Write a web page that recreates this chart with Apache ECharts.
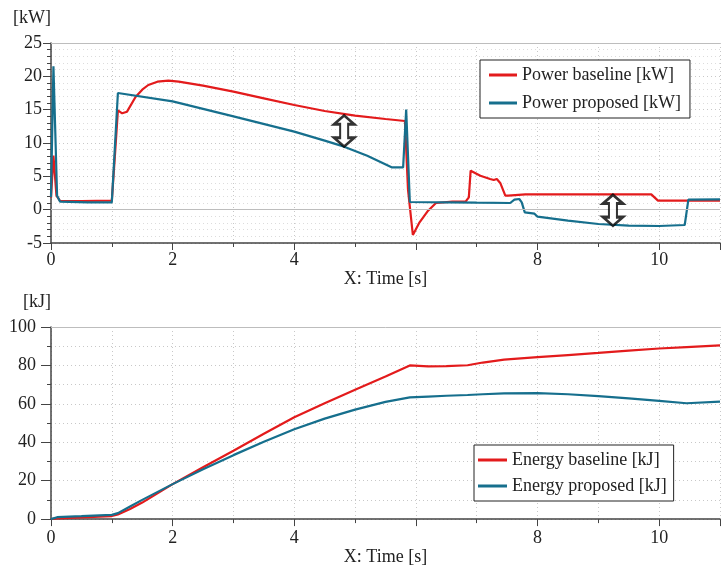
<!doctype html>
<html>
<head>
<meta charset="UTF-8">
<title>Power and energy</title>
<script src="https://cdn.jsdelivr.net/npm/echarts@6/dist/echarts.min.js"></script>
<style>
  html, body { margin: 0; padding: 0; background: #fff; }
  #main { width: 723px; height: 567px; }
</style>
</head>
<body>
<div id="main"></div>
<script>
// power baseline [kW]
var tPowerBase = [0, 0.04, 0.06, 0.09, 0.15, 0.5, 1.0, 1.05, 1.1, 1.17, 1.25, 1.39, 1.5, 1.6, 1.75, 1.93, 2.1,
  2.5, 3.0, 3.5, 4.0, 4.5, 5.0, 5.5, 5.82, 5.87, 5.95, 6.06, 6.2, 6.33, 6.6, 6.82, 6.87, 6.9, 6.93,
  7.06, 7.22, 7.28, 7.33, 7.39, 7.47, 7.52, 7.8, 9.87, 9.98, 11];
var powerBase = [1.8, 8.1, 7.9, 2.1, 1.3, 1.3, 1.35, 8, 14.9, 14.45, 14.7, 16.9, 18.0, 18.7, 19.2, 19.35, 19.2,
  18.6, 17.7, 16.7, 15.7, 14.8, 14.1, 13.6, 13.3, 3, -3.8, -1.9, -0.15, 1.0, 1.2, 1.25, 1.85, 5.85, 5.8,
  5.1, 4.6, 4.45, 4.6, 3.95, 2.1, 2.1, 2.3, 2.3, 1.35, 1.35];

// power proposed [kW]
var tPowerProp = [0, 0.04, 0.06, 0.1, 0.15, 0.6, 1.0, 1.1, 2.0, 3.0, 4.0, 4.5, 4.82, 5.2, 5.6, 5.79, 5.84, 5.9,
  6.5, 7.0, 7.55, 7.62, 7.7, 7.74, 7.79, 7.95, 8.0, 8.5, 9.0, 9.5, 10.0, 10.42, 10.48, 11];
var powerProp = [1.85, 21.5, 21.3, 2.1, 1.2, 1.1, 1.1, 17.5, 16.25, 14.0, 11.7, 10.35, 9.45, 8.1, 6.35, 6.35, 15.0, 1.15,
  1.1, 1.05, 1.0, 1.5, 1.6, 1.1, -0.4, -0.6, -1.05, -1.65, -2.15, -2.4, -2.45, -2.3, 1.5, 1.55];

// energy [kJ]
var tEnergy = [0, 0.1, 0.2, 0.5, 1.0, 1.1, 1.3, 1.5, 2.0, 2.5, 3.0, 3.5, 4.0, 4.5, 5.0, 5.5, 5.9,
  6.2, 6.5, 6.85, 7.1, 7.45, 8.0, 8.5, 9.0, 9.5, 10.0, 10.45, 11];
var energyBase = [0, 0.4, 0.5, 0.9, 1.6, 2.4, 5.3, 8.6, 18.2, 27, 35.6, 44.4, 53, 60.3, 67.3, 74.2, 80.0,
  79.5, 79.6, 80.1, 81.5, 83, 84.3, 85.4, 86.5, 87.7, 88.8, 89.5, 90.4];
var energyProp = [0, 1.0, 1.2, 1.5, 2.2, 3.1, 6.6, 10.0, 18.2, 26, 33.3, 40.3, 46.8, 52.3, 57, 61, 63.4,
  63.8, 64.2, 64.6, 65.0, 65.4, 65.6, 65.0, 64.0, 62.8, 61.5, 60.3, 61.2];

// double arrow annotations [t, value]
var arrowPower = [[4.82, 11.8], [9.24, -0.1]];

var xTicks = [0, 2, 4, 8, 10];

function zip(t, v) { return t.map(function (x, i) { return [x, v[i]]; }); }

var RED = '#e31b1c', TEAL = '#166f8d';
var FONT = 'Liberation Serif';
var txt = { fontFamily: FONT, fontSize: 18, color: '#222' };
var dotted = { type: [1, 3], color: '#c8c8c8', width: 1 };
var arrowPath = 'path://M10,0 L20,9 L14,9 L14,23 L20,23 L10,32 L0,23 L6,23 L6,9 L0,9 Z';

function xAxisOf(grid, margin, gap) {
  return {
    type: 'value', gridIndex: grid, min: 0, max: 11, interval: 2,
    name: 'X: Time [s]', nameLocation: 'middle', nameGap: gap, nameTextStyle: txt,
    axisLine: { onZero: false, lineStyle: { color: '#444', width: 1.5 } },
    axisTick: { length: 7, lineStyle: { color: '#444' } },
    minorTick: { show: true, splitNumber: 2, length: 4, lineStyle: { color: '#444' } },
    axisLabel: Object.assign({ margin: margin, formatter: function (v) { return xTicks.indexOf(v) >= 0 ? v : ''; } }, txt),
    splitLine: { show: true, lineStyle: dotted },
    minorSplitLine: { show: true, lineStyle: dotted }
  };
}

var chart = echarts.init(document.getElementById('main'));
chart.setOption({
  animation: false,
  backgroundColor: '#fff',
  grid: [
    { left: 51, top: 43, width: 679, height: 200 },
    { left: 51, top: 327, width: 679, height: 200 }
  ],
  xAxis: [xAxisOf(0, 8, 16), xAxisOf(1, 10, 17)],
  yAxis: [
    {
      type: 'value', gridIndex: 0, min: -5, max: 25, interval: 5,
      name: '[kW]', nameLocation: 'end', nameGap: 16,
      nameTextStyle: Object.assign({ align: 'right' }, txt),
      axisLine: { show: true, lineStyle: { color: '#444', width: 1.5 } },
      axisTick: { show: true, length: 8, lineStyle: { color: '#444' } },
      minorTick: { show: true, splitNumber: 5, length: 4, lineStyle: { color: '#444' } },
      axisLabel: Object.assign({ margin: 9 }, txt),
      splitLine: { show: true, lineStyle: dotted },
      minorSplitLine: { show: true, lineStyle: { type: [1, 3], color: '#dcdcdc' } }
    },
    {
      type: 'value', gridIndex: 1, min: 0, max: 100, interval: 20,
      name: '[kJ]', nameLocation: 'end', nameGap: 16,
      nameTextStyle: Object.assign({ align: 'right' }, txt),
      axisLine: { show: true, lineStyle: { color: '#444', width: 1.5 } },
      axisTick: { show: true, length: 10, lineStyle: { color: '#444' } },
      minorTick: { show: true, splitNumber: 2, length: 4, lineStyle: { color: '#444' } },
      axisLabel: Object.assign({ margin: 15 }, txt),
      splitLine: { show: true, lineStyle: dotted },
      minorSplitLine: { show: true, lineStyle: dotted }
    }
  ],
  legend: [
    {
      data: ['Power baseline [kW]', 'Power proposed [kW]'],
      orient: 'vertical', left: 480, top: 60,
      backgroundColor: '#fff', borderColor: '#222', borderWidth: 1,
      padding: [5, 9, 5, 9], itemGap: 8, itemWidth: 28, itemHeight: 3, icon: 'rect',
      textStyle: Object.assign({ lineHeight: 20 }, txt)
    },
    {
      data: ['Energy baseline [kJ]', 'Energy proposed [kJ]'],
      orient: 'vertical', left: 474, top: 445,
      backgroundColor: '#fff', borderColor: '#222', borderWidth: 1,
      padding: [5, 7, 5, 4], itemGap: 6, itemWidth: 29, itemHeight: 3, icon: 'rect',
      textStyle: Object.assign({ lineHeight: 20 }, txt)
    }
  ],
  series: [
    {
      name: 'Power baseline [kW]', type: 'line', xAxisIndex: 0, yAxisIndex: 0,
      data: zip(tPowerBase, powerBase), showSymbol: false, color: RED,
      lineStyle: { width: 2.2, color: RED },
      markLine: {
        silent: true, symbol: 'none', label: { show: false },
        lineStyle: { type: 'solid', color: '#bdbdbd', width: 1 },
        data: [{ yAxis: 0 }, { yAxis: 25 }]
      }
    },
    {
      name: 'Power proposed [kW]', type: 'line', xAxisIndex: 0, yAxisIndex: 0,
      data: zip(tPowerProp, powerProp), showSymbol: false, color: TEAL,
      lineStyle: { width: 2.2, color: TEAL }
    },
    {
      name: 'arrows', type: 'scatter', xAxisIndex: 0, yAxisIndex: 0,
      data: arrowPower, symbol: arrowPath, symbolSize: [20, 31], z: 5,
      itemStyle: { color: '#fff', borderColor: '#000', borderWidth: 2.5 }
    },
    {
      name: 'Energy baseline [kJ]', type: 'line', xAxisIndex: 1, yAxisIndex: 1,
      data: zip(tEnergy, energyBase), showSymbol: false, color: RED,
      lineStyle: { width: 2.2, color: RED },
      markLine: {
        silent: true, symbol: 'none', label: { show: false },
        lineStyle: { type: 'solid', color: '#bdbdbd', width: 1 },
        data: [{ yAxis: 100 }]
      }
    },
    {
      name: 'Energy proposed [kJ]', type: 'line', xAxisIndex: 1, yAxisIndex: 1,
      data: zip(tEnergy, energyProp), showSymbol: false, color: TEAL,
      lineStyle: { width: 2.2, color: TEAL }
    }
  ]
});
</script>
</body>
</html>
